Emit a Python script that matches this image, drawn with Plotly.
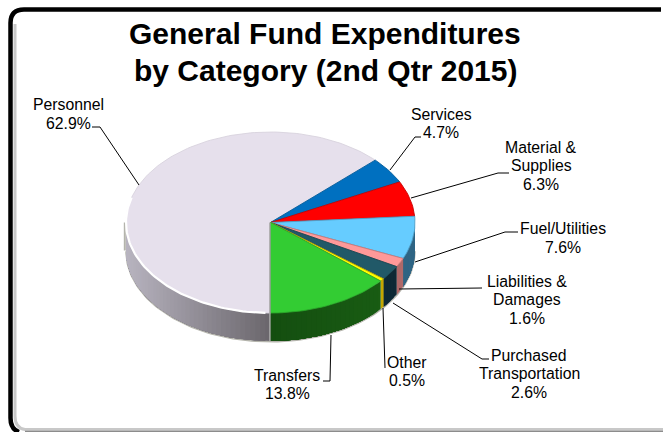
import math
import plotly.graph_objects as go

TITLE_LINES = ["General Fund Expenditures", "by Category (2nd Qtr 2015)"]
categories = ["Personnel", "Services", "Material &|Supplies", "Fuel/Utilities",
              "Liabilities &|Damages", "Purchased|Transportation", "Other", "Transfers"]
shares = [62.9, 4.7, 6.3, 7.6, 1.6, 2.6, 0.5, 13.8]

# styling
top_colors = ["#e6e0ec", "#0070c0", "#ff0000", "#66ccff", "#ff9999", "#215968", "#ffff00", "#33cc33"]
edge_colors = ["#d8d2de", "#005a9a", "#c80000", "#4f9fc8", "#c87878", "#1a4652", "#b8a000", "#2aa82a"]
wall_left = ["#b8b4c0", "#00406e", "#8c0000", "#2f6584", "#b06a6a", "#0e2a36", "#c8aa00", "#1a6014"]
wall_right = ["#6a666c", "#00406e", "#8c0000", "#2a5a78", "#a05a5a", "#0b2530", "#b89c00", "#144e10"]

# pie geometry in pixel space
CX, CY, RX, RY, DEPTH = 270.5, 222.5, 144.5, 90.5, 28.0
START = 180.0
PITCH = 18.5

label_pos = [(68, 114), (441, 123.5), (541, 165.5), (563, 238), (527, 299.5), (529, 373.5), (407, 371.5), (287, 384.5)]
leaders = [
    [(92, 127), (100, 127), (139, 185)],
    [(390, 170), (415, 137), (421, 137)],
    [(411, 198), (498, 173), (509, 173)],
    [(415, 262), (505, 232), (518, 232)],
    [(399, 289), (482, 288)],
    [(393, 303), (482, 359), (489, 359)],
    [(383, 308), (385, 368)],
    [(331, 335), (330, 381), (323, 381)],
]


def pt(a, dy=0.0):
    r = math.radians(a)
    return CX + RX * math.sin(r), CY - RY * math.cos(r) + dy


def mix(c1, c2, t):
    a = [int(c1[i:i + 2], 16) for i in (1, 3, 5)]
    b = [int(c2[i:i + 2], 16) for i in (1, 3, 5)]
    return "#%02x%02x%02x" % tuple(round(p + (q - p) * t) for p, q in zip(a, b))


def steps(a0, a1, d=1.5):
    n = max(2, int(abs(a1 - a0) / d) + 1)
    return [a0 + (a1 - a0) * i / (n - 1) for i in range(n)]


def poly(pts, fill, line=None, width=0.0):
    return go.Scatter(x=[p[0] for p in pts], y=[p[1] for p in pts], mode="lines",
                      fill="toself", fillcolor=fill,
                      line=dict(color=line or fill, width=width),
                      hoverinfo="skip", showlegend=False)


def stroke(pts, color, width):
    return go.Scatter(x=[p[0] for p in pts], y=[p[1] for p in pts], mode="lines",
                      line=dict(color=color, width=width), hoverinfo="skip", showlegend=False)


total = sum(shares)
bounds = [START]
for s in shares:
    bounds.append(bounds[-1] + s / total * 360)

fig = go.Figure()

# outer lower edge of the wall, then the wall itself, sector by sector
fig.add_trace(stroke([pt(a, DEPTH + 0.8) for a in steps(90, 270)], "#b4b4ac", 1.5))
fig.add_trace(stroke([(pt(270)[0] - 1.2, pt(270)[1]), (pt(270)[0] - 1.2, pt(270, DEPTH)[1])], "#b4b4ac", 2))
for i, s in enumerate(shares):
    a0, a1 = bounds[i], bounds[i + 1]
    for lo, hi in ((a0, a1), (a0 - 360, a1 - 360)):
        lo2, hi2 = max(lo, 90), min(hi, 270)
        if hi2 <= lo2:
            continue
        # each strip runs to the far end of the slice and the next one paints over it,
        # so no seams show between neighbouring strips
        grid = steps(lo2, hi2, 2.0)
        for j, g0 in enumerate(grid[:-1]):
            xm = (pt(g0)[0] + pt(grid[j + 1])[0]) / 2
            col = mix(wall_right[i], wall_left[i], max(0, min(1, abs(xm - CX) / RX)))
            rest = grid[j:]
            band = [pt(a) for a in rest] + [pt(a, DEPTH) for a in reversed(rest)]
            fig.add_trace(poly(band, col, width=0))

# top faces
for i, s in enumerate(shares):
    arc = [pt(a) for a in steps(bounds[i], bounds[i + 1])]
    fig.add_trace(poly([(CX, CY)] + arc + [(CX, CY)], top_colors[i], edge_colors[i], 0.9))

# light rim on the front-left of the biggest slice and the grey seam beside it
fig.add_trace(stroke([pt(a) for a in steps(182, 286)], "#ffffff", 2.2))
fig.add_trace(stroke([(CX - 0.6, CY), (CX - 0.6, CY + RY + DEPTH)], "#a8a8a8", 1.5))

# leaders
for seg in leaders:
    fig.add_trace(stroke(seg, "#000000", 1))

ann = []
for k, line in enumerate(TITLE_LINES):
    ann.append(dict(x=325, y=33.5 + 37 * k, text=f"<b>{line}</b>", showarrow=False,
                    xanchor="center", yanchor="middle",
                    font=dict(family="Liberation Sans", size=30, color="#000000")))
for name, s, (x, y) in zip(categories, shares, label_pos):
    rows = name.split("|") + [f"{s:.1f}%"]
    y0 = y - PITCH * (len(rows) - 1) / 2
    for k, row in enumerate(rows):
        ann.append(dict(x=x, y=y0 + PITCH * k, text=row, showarrow=False,
                        xanchor="center", yanchor="middle",
                        font=dict(family="Liberation Sans", size=15.8, color="#000000")))

frame = "M 661,9.5 L 24,9.5 Q 10.5,9.5 10.5,23 L 10.5,418 Q 10.5,429 19,432"
shapes = [
    dict(type="path", path="M 15,24 L 15,416 Q 15,428 25,429.5 L 663,429.5", line=dict(color="#c8c8c8", width=3), layer="below"),
    dict(type="line", x0=25, x1=663, y0=431.5, y1=431.5, line=dict(color="#8c8c8c", width=1.5), layer="below"),
    dict(type="path", path=frame, line=dict(color="#000000", width=4.5), layer="below"),
]

fig.update_layout(
    width=663, height=432, autosize=False,
    margin=dict(l=0, r=0, t=0, b=0),
    paper_bgcolor="#ffffff", plot_bgcolor="#ffffff",
    xaxis=dict(range=[0, 663], visible=False, fixedrange=True),
    yaxis=dict(range=[432, 0], visible=False, fixedrange=True),
    annotations=ann, shapes=shapes, showlegend=False,
)
fig.write_html("out.html", config=dict(displayModeBar=False),
               post_script="document.body.style.margin='0';document.body.style.overflow='hidden';")
